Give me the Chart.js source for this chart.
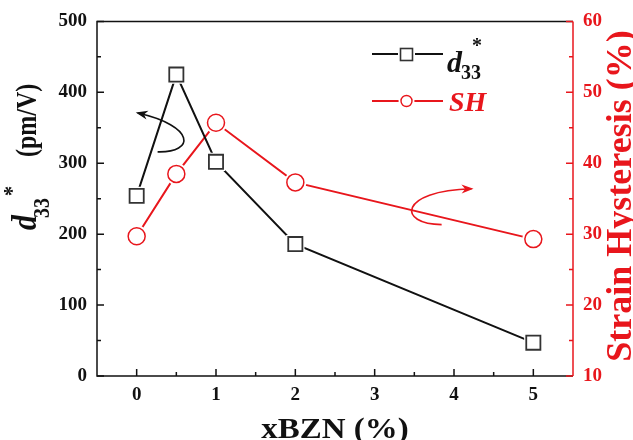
<!DOCTYPE html>
<html>
<head>
<meta charset="utf-8">
<script src="https://cdn.jsdelivr.net/npm/chart.js@4.4.0/dist/chart.umd.min.js"></script>
<style>
 html, body { margin: 0; padding: 0; background: #fff; }
</style>
</head>
<body>
<canvas id="chart" width="633" height="440"></canvas>
<script>
// data
const xbzn = [0, 0.5, 1, 2, 5];
const d33Values = [254, 425, 302, 186, 47];
const shValues = [29.7, 38.5, 45.7, 37.3, 29.3];
const xTicks = [0, 1, 2, 3, 4, 5];
const leftTicks = [0, 100, 200, 300, 400, 500];
const rightTicks = [10, 20, 30, 40, 50, 60];

const RED = "#e8161c";
const INK = "#111";
const SERIF = "'Liberation Serif', 'Times New Roman', serif";

const pts = (ys) => xbzn.map((x, i) => ({ x: x, y: ys[i] }));
const mids = (arr) => arr.slice(1).map((v, i) => (v + arr[i]) / 2);

// curved arrows, in (x, left axis) values
const blackArrow = [[0.264, 316], [0.741, 314.6], [0.741, 352.5], [0.013, 370.8]];
const redArrow = [[3.844, 213.5], [3.291, 213.5], [3.291, 261.2], [4.221, 264]];

function font(size, style) {
 return (style || "bold") + " " + size + "px " + SERIF;
}

function drawArrow(ctx, sx, sy, p, color) {
 const q = p.map(([a, b]) => [sx.getPixelForValue(a), sy.getPixelForValue(b)]);
 ctx.save();
 ctx.strokeStyle = color;
 ctx.fillStyle = color;
 ctx.lineWidth = 1.6;
 ctx.beginPath();
 ctx.moveTo(q[0][0], q[0][1]);
 ctx.bezierCurveTo(q[1][0], q[1][1], q[2][0], q[2][1], q[3][0], q[3][1]);
 ctx.stroke();
 const ang = Math.atan2(q[3][1] - q[2][1], q[3][0] - q[2][0]);
 const len = 12, half = 4.5;
 ctx.translate(q[3][0], q[3][1]);
 ctx.rotate(ang);
 ctx.beginPath();
 ctx.moveTo(2, 0);
 ctx.lineTo(2 - len, -half);
 ctx.lineTo(2 - len * 0.7, 0);
 ctx.lineTo(2 - len, half);
 ctx.closePath();
 ctx.fill();
 ctx.restore();
}

const framePlugin = {
 id: "frame",
 afterDraw(chart) {
  const { ctx, chartArea: a, scales } = chart;
  const sx = scales.x, sy = scales.y, sy2 = scales.y2;
  ctx.save();
  ctx.lineWidth = 1.5;

  // frame
  ctx.strokeStyle = INK;
  ctx.beginPath();
  ctx.moveTo(a.right, a.top); ctx.lineTo(a.left, a.top);
  ctx.lineTo(a.left, a.bottom); ctx.lineTo(a.right, a.bottom);
  ctx.stroke();
  ctx.strokeStyle = RED;
  ctx.beginPath();
  ctx.moveTo(a.right, a.top); ctx.lineTo(a.right, a.bottom);
  ctx.stroke();

  // inward ticks
  ctx.strokeStyle = INK;
  ctx.beginPath();
  xTicks.forEach((v) => { const p = sx.getPixelForValue(v); ctx.moveTo(p, a.bottom); ctx.lineTo(p, a.bottom - 7); });
  mids(xTicks).forEach((v) => { const p = sx.getPixelForValue(v); ctx.moveTo(p, a.bottom); ctx.lineTo(p, a.bottom - 4); });
  leftTicks.forEach((v) => { const p = sy.getPixelForValue(v); ctx.moveTo(a.left, p); ctx.lineTo(a.left + 7, p); });
  mids(leftTicks).forEach((v) => { const p = sy.getPixelForValue(v); ctx.moveTo(a.left, p); ctx.lineTo(a.left + 4, p); });
  ctx.stroke();
  ctx.strokeStyle = RED;
  ctx.beginPath();
  rightTicks.forEach((v) => { const p = sy2.getPixelForValue(v); ctx.moveTo(a.right, p); ctx.lineTo(a.right - 7, p); });
  mids(rightTicks).forEach((v) => { const p = sy2.getPixelForValue(v); ctx.moveTo(a.right, p); ctx.lineTo(a.right - 4, p); });
  ctx.stroke();

  // arrows
  drawArrow(ctx, sx, sy, blackArrow, INK);
  drawArrow(ctx, sx, sy, redArrow, RED);

  // legend
  ctx.lineWidth = 2;
  ctx.strokeStyle = INK;
  ctx.beginPath(); ctx.moveTo(372, 54); ctx.lineTo(443, 54); ctx.stroke();
  ctx.fillStyle = "#fff";
  ctx.fillRect(398, 46, 17, 17);
  ctx.lineWidth = 1.6;
  ctx.strokeStyle = "#333";
  ctx.strokeRect(400.5, 48.5, 12, 12);
  ctx.lineWidth = 2;
  ctx.strokeStyle = RED;
  ctx.beginPath(); ctx.moveTo(372, 101); ctx.lineTo(443, 101); ctx.stroke();
  ctx.beginPath(); ctx.arc(406.5, 101, 8, 0, Math.PI * 2); ctx.fill();
  ctx.lineWidth = 1.4;
  ctx.beginPath(); ctx.arc(406.5, 101, 5.5, 0, Math.PI * 2); ctx.stroke();

  ctx.textAlign = "left";
  ctx.textBaseline = "alphabetic";
  ctx.fillStyle = INK;
  ctx.font = font(30, "italic bold");
  ctx.fillText("d", 447, 72);
  ctx.font = font(20);
  ctx.fillText("33", 461, 79);
  ctx.fillText("*", 472, 52);
  ctx.fillStyle = RED;
  ctx.font = font(28, "italic bold");
  ctx.fillText("SH", 449, 111);

  // x title, slightly widened like the source figure
  ctx.save();
  ctx.fillStyle = INK;
  ctx.textAlign = "center";
  ctx.translate((a.left + a.right) / 2, 438);
  ctx.scale(1.1, 1);
  ctx.font = font(30);
  ctx.fillText("xBZN (%)", 0, 0);
  ctx.restore();

  // left title, rotated
  ctx.save();
  ctx.fillStyle = INK;
  ctx.translate(36, 230);
  ctx.scale(1.2, 1);
  ctx.rotate(-Math.PI / 2);
  ctx.textAlign = "left";
  ctx.font = font(30, "italic bold");
  ctx.fillText("d", 0, 0);
  ctx.font = font(20);
  ctx.fillText("33", 12, 11);
  ctx.fillText("*", 34, -14);
  ctx.font = font(24);
  ctx.fillText("(pm/V)", 73, 0);
  ctx.restore();

  // right title, rotated
  ctx.save();
  ctx.translate(631, 196);
  ctx.rotate(-Math.PI / 2);
  ctx.fillStyle = RED;
  ctx.textAlign = "center";
  ctx.font = font(36);
  ctx.fillText("Strain Hysteresis (%)", 0, 0);
  ctx.restore();

  ctx.restore();
 },
};

const tickFont = { family: SERIF, size: 19, weight: "bold" };

const config = {
 type: "scatter",
 data: {
  datasets: [
   { data: pts(d33Values), yAxisID: "y", showLine: true, borderColor: INK, borderWidth: 2, pointRadius: 0, order: 3 },
   { data: pts(shValues), yAxisID: "y2", showLine: true, borderColor: RED, borderWidth: 2, pointRadius: 0, order: 3 },
   // white halos so lines stop short of the symbols
   { data: pts(d33Values), yAxisID: "y", pointStyle: "rect", pointRadius: 13, pointBackgroundColor: "#fff", pointBorderColor: "#fff", pointBorderWidth: 0, order: 2 },
   { data: pts(shValues), yAxisID: "y2", pointStyle: "circle", pointRadius: 11, pointBackgroundColor: "#fff", pointBorderColor: "#fff", pointBorderWidth: 0, order: 2 },
   { data: pts(d33Values), yAxisID: "y", pointStyle: "rect", pointRadius: 10, pointBackgroundColor: "#fff", pointBorderColor: "#333", pointBorderWidth: 1.8, order: 1 },
   { data: pts(shValues), yAxisID: "y2", pointStyle: "circle", pointRadius: 8.5, pointBackgroundColor: "#fff", pointBorderColor: RED, pointBorderWidth: 1.5, order: 1 },
  ],
 },
 options: {
  responsive: false,
  animation: false,
  events: [],
  layout: { padding: { top: 20, left: 0, right: 0, bottom: 0 } },
  plugins: { legend: { display: false }, tooltip: { enabled: false } },
  scales: {
   x: {
    type: "linear",
    min: -0.5,
    max: 5.5,
    afterBuildTicks: (s) => { s.ticks = xTicks.map((v) => ({ value: v })); },
    afterFit: (s) => { s.height = 64; },
    grid: { display: false, drawTicks: false },
    border: { display: false },
    ticks: { font: tickFont, color: INK, padding: 8, maxRotation: 0, autoSkip: false },
   },
   y: {
    position: "left",
    min: 0,
    max: 500,
    afterBuildTicks: (s) => { s.ticks = leftTicks.map((v) => ({ value: v })); },
    afterFit: (s) => { s.width = 97; },
    grid: { display: false, drawTicks: false },
    border: { display: false },
    ticks: { font: tickFont, color: INK, padding: 10 },
   },
   y2: {
    position: "right",
    min: 10,
    max: 60,
    afterBuildTicks: (s) => { s.ticks = rightTicks.map((v) => ({ value: v })); },
    afterFit: (s) => { s.width = 60; },
    grid: { display: false, drawTicks: false },
    border: { display: false },
    ticks: { font: tickFont, color: RED, padding: 10 },
   },
  },
 },
 plugins: [framePlugin],
};

const chart = new Chart(document.getElementById("chart"), config);
</script>
</body>
</html>
